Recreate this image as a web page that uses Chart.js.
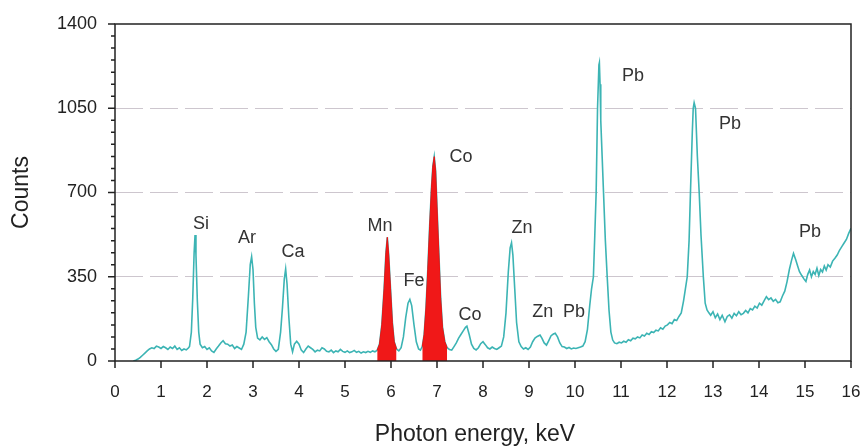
<!DOCTYPE html>
<html><head><meta charset="utf-8">
<script src="https://cdn.jsdelivr.net/npm/chart.js@4.4.1/dist/chart.umd.min.js"></script>
<style>html,body{margin:0;padding:0;background:#fff;}canvas{display:block;}</style>
</head><body>
<canvas id="c" width="863" height="446"></canvas>
<script>
// Photon energy (keV)
const energy = [
 0.40,0.45,0.50,0.55,0.60,0.65,0.70,0.75,0.80,0.85,0.90,0.95,1.00,1.05,1.10,1.15,1.20,1.25,1.30,1.35,1.40,1.45,1.50,1.55,1.60,
 1.62,1.66,1.69,1.72,1.74,1.76,1.79,1.82,1.85,1.90,1.95,2.00,2.05,2.10,2.15,2.20,2.25,2.30,2.35,2.40,2.45,2.50,2.55,2.60,2.65,2.70,2.75,2.80,
 2.85,2.90,2.94,2.97,3.00,3.03,3.06,3.10,3.15,3.20,3.25,3.30,3.35,3.40,3.45,3.50,3.55,3.60,
 3.64,3.68,3.71,3.74,3.78,3.82,3.86,3.90,3.95,4.00,4.05,4.10,4.15,4.20,4.25,4.30,4.35,4.40,4.45,4.50,4.55,4.60,4.65,4.70,4.75,4.80,4.85,4.90,4.95,
 5.00,5.05,5.10,5.15,5.20,5.25,5.30,5.35,5.40,5.45,5.50,5.55,5.60,5.65,5.70,
 5.75,5.80,5.85,5.89,5.92,5.95,5.99,6.03,6.07,6.12,6.17,6.22,6.27,6.32,6.37,6.41,6.45,6.50,6.55,6.60,6.64,6.68,
 6.72,6.76,6.80,6.84,6.88,6.91,6.94,6.97,7.00,7.04,7.08,7.12,7.17,7.22,7.27,7.32,7.37,7.42,7.47,7.52,7.57,7.62,7.65,7.70,7.75,7.80,7.85,7.90,7.95,
 8.00,8.05,8.10,8.15,8.20,8.25,8.30,8.35,8.40,8.45,8.50,8.55,8.59,8.62,8.65,8.69,8.73,8.78,8.83,8.88,8.93,8.98,9.03,9.08,9.13,9.18,9.24,9.28,9.33,
 9.38,9.43,9.48,9.53,9.57,9.62,9.67,9.72,9.77,9.82,9.87,9.92,9.97,10.02,10.07,10.12,10.17,10.22,10.27,10.32,
 10.36,10.40,10.43,10.46,10.49,10.52,10.53,10.545,10.56,10.59,10.62,10.66,10.70,10.74,10.78,10.82,10.86,10.91,10.96,
 11.01,11.06,11.11,11.16,11.21,11.26,11.31,11.36,11.41,11.46,11.51,11.56,11.61,11.66,11.71,11.76,11.81,11.86,11.91,11.96,
 12.01,12.06,12.11,12.16,12.21,12.26,12.31,12.36,12.40,12.44,12.48,12.51,12.55,12.57,12.59,12.62,12.66,12.70,12.74,12.79,12.83,12.87,12.91,12.95,
 13.00,13.05,13.10,13.15,13.20,13.26,13.31,13.36,13.41,13.46,13.51,13.56,13.61,13.66,13.71,13.76,13.81,13.86,13.91,13.96,
 14.01,14.06,14.11,14.16,14.21,14.26,14.31,14.36,14.41,14.46,14.51,14.56,14.61,14.66,14.71,14.75,14.80,14.84,14.88,14.93,14.98,
 15.02,15.06,15.10,15.14,15.18,15.22,15.26,15.30,15.34,15.38,15.42,15.46,15.50,15.55,15.60,15.65,15.70,15.75,15.80,15.85,15.90,15.95,16.00
];
// Counts
const counts = [
 0,3,8,15,24,33,42,50,55,52,62,58,52,60,55,48,58,52,62,48,55,44,50,46,55,
 60,120,260,450,523,440,250,120,70,55,60,48,55,42,36,50,62,75,84,72,70,62,66,52,60,54,48,70,
 120,270,400,433,380,240,140,95,88,100,90,97,80,68,50,40,48,120,
 220,340,382,320,180,70,38,70,82,70,45,35,50,62,55,48,38,45,42,55,50,40,38,45,35,42,38,48,40,
 36,42,35,38,44,36,40,33,38,35,40,36,42,38,45,
 70,150,300,450,514,440,300,160,80,50,42,55,100,180,240,256,230,150,80,50,45,60,
 110,220,380,560,720,810,849,790,640,450,260,140,80,55,48,45,60,75,95,110,125,140,145,110,70,52,46,55,72,
 80,68,55,50,58,52,48,55,62,100,200,370,470,491,440,300,160,80,60,50,55,48,58,80,95,102,108,95,75,
 66,85,105,112,115,100,75,60,58,52,56,50,54,52,55,58,62,80,130,230,
 300,350,520,700,1050,1230,1239,1150,1000,850,700,500,350,210,120,87,75,72,78,
 75,82,78,88,84,95,92,100,96,108,104,115,110,122,118,128,125,138,132,145,
 150,160,155,172,168,185,200,250,300,350,500,700,950,1050,1073,1050,850,700,520,350,240,212,200,190,
 205,180,195,172,190,163,185,192,178,198,188,205,192,198,210,200,218,212,228,220,
 240,232,250,267,255,262,248,256,242,246,270,290,330,380,420,447,420,395,371,355,340,
 330,360,378,350,372,360,385,355,380,370,395,378,400,390,415,427,440,460,475,490,505,530,551
];
// Highlighted (red) peak windows, keV
const mnWindow = [5.70, 6.12];
const coWindow = [6.68, 7.22];
// Axis ticks
const yMajorTicks = [0, 350, 700, 1050, 1400];
const yMinorStep = 50;
const xTickStep = 1;
// Axis titles
const xTitle = 'Photon energy, keV';
const yTitle = 'Counts';
// Peak annotations
const peakLabels = ['Si','Ar','Ca','Mn','Fe','Co','Co','Zn','Zn','Pb','Pb','Pb','Pb'];
const peakLabelKeV = [1.87,2.87,3.87,5.76,6.50,7.52,7.72,8.85,9.30,9.98,11.26,13.37,15.11];
const peakLabelCounts = [569,511,453,561,332,847,191,552,204,204,1184,985,536];

const FONT = "'Liberation Sans', Arial, sans-serif";
Chart.defaults.font.family = FONT;

const pts = energy.map((e,i)=>({x:e,y:counts[i]}));
const inWin = w => pts.filter(p => p.x >= w[0]-1e-9 && p.x <= w[1]+1e-9);

const framePlugin = {
  id:'frame',
  afterDraw(chart){
    const {ctx, chartArea:a, scales:{x,y}} = chart;
    ctx.save();
    ctx.strokeStyle = '#222';
    ctx.lineWidth = 1.5;
    ctx.strokeRect(a.left, a.top, a.right-a.left, a.bottom-a.top);
    ctx.beginPath();
    for (let v = 0; v <= 1400; v += yMinorStep){
      const py = y.getPixelForValue(v);
      const len = yMajorTicks.includes(v) ? 7 : 4;
      ctx.moveTo(a.left - len, py); ctx.lineTo(a.left, py);
    }
    x.ticks.forEach(t => {
      const px = x.getPixelForValue(t.value);
      ctx.moveTo(px, a.bottom); ctx.lineTo(px, a.bottom + 7);
    });
    ctx.stroke();
    // x-axis title
    ctx.fillStyle = '#222';
    ctx.font = "23px " + FONT;
    ctx.textAlign = 'center';
    ctx.textBaseline = 'alphabetic';
    ctx.fillText(xTitle, (a.left + a.right)/2 - 8, 441);
    // annotations
    ctx.fillStyle = '#333';
    ctx.font = "18px " + FONT;
    ctx.textBaseline = 'middle';
    peakLabels.forEach((t,i)=>{
      ctx.fillText(t, x.getPixelForValue(peakLabelKeV[i]), y.getPixelForValue(peakLabelCounts[i]));
    });
    ctx.restore();
  }
};

new Chart(document.getElementById('c'), {
  type:'line',
  data:{
    datasets:[
      {data: inWin(mnWindow), borderColor:'#f01010', backgroundColor:'#f01818', borderWidth:1, fill:'origin', pointRadius:0, order:0},
      {data: inWin(coWindow), borderColor:'#f01010', backgroundColor:'#f01818', borderWidth:1, fill:'origin', pointRadius:0, order:0},
      {data: pts, borderColor:'#3cb4b4', borderWidth:1.6, fill:false, pointRadius:0, tension:0, order:1}
    ]
  },
  options:{
    responsive:false,
    animation:false,
    layout:{padding:{top:24,right:12,left:0,bottom:0}},
    plugins:{legend:{display:false},tooltip:{enabled:false}},
    scales:{
      x:{
        type:'linear', min:0, max:16,
        afterFit(s){ s.height = 85; s.paddingLeft = 0; s.paddingRight = 0; },
        ticks:{stepSize:xTickStep, autoSkip:false, maxRotation:0, padding:21, color:'#222', font:{size:17}},
        grid:{display:false, drawTicks:false},
        border:{display:false},
        title:{display:false}
      },
      y:{
        type:'linear', min:0, max:1400,
        afterFit(s){ s.width = 115; s.paddingTop = 0; s.paddingBottom = 0; },
        afterBuildTicks(s){ s.ticks = []; for (let v=0; v<=1400; v+=yMinorStep) s.ticks.push({value:v}); },
        ticks:{autoSkip:false, padding:18, color:'#222', font:{size:18},
          callback:(v)=> yMajorTicks.includes(v) ? String(v) : ''},
        grid:{drawTicks:false, lineWidth:1,
          color:(c)=> (c.tick && [350,700,1050].includes(c.tick.value)) ? '#cdc6ce' : 'rgba(0,0,0,0)'},
        border:{display:false, dash:[28,7]},
        title:{display:true, text:yTitle, color:'#222', font:{size:23}, padding:{top:8,bottom:0}}
      }
    }
  },
  plugins:[framePlugin]
});
</script>
</body></html>
